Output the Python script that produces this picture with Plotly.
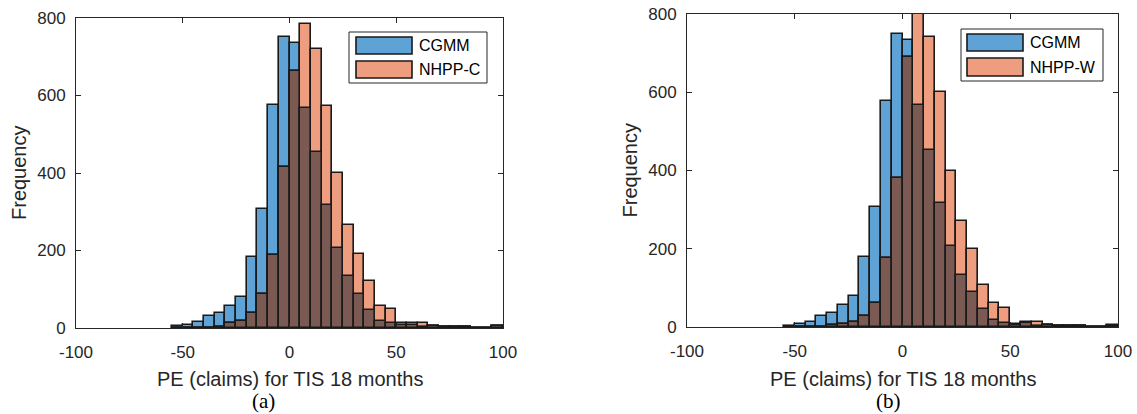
import plotly.graph_objects as go
import numpy as np

# ---------------- data ----------------
bin_left = list(range(-55, 100, 5))          # histogram bin left edges (width 5)
bin_width = 5
x_ticks = [-100, -50, 0, 50, 100]
x_tick_labels = ["-100", "-50", "0", "50", "100"]
y_ticks = [0, 200, 400, 600, 800]
y_tick_labels = ["0", "200", "400", "600", "800"]

cgmm_a = [5, 7, 15, 31, 38, 57, 81, 182, 307, 576, 750, 736, 569, 455, 318, 206,
          134, 89, 46, 19, 12, 7, 8, 3, 6, 3, 2, 3, 0, 0, 5]
nhpp_c = [0, 0, 0, 1, 3, 12, 17, 40, 89, 188, 415, 664, 784, 720, 573, 400,
          267, 190, 122, 57, 50, 12, 14, 14, 6, 3, 3, 3, 0, 0, 4]
cgmm_b = [3, 8, 13, 28, 35, 55, 80, 180, 306, 577, 750, 734, 568, 453, 316, 206,
          133, 90, 46, 18, 11, 4, 9, 3, 6, 2, 2, 2, 0, 0, 4]
nhpp_w = [0, 0, 0, 1, 4, 8, 14, 28, 61, 176, 380, 690, 805, 741, 601, 399,
          270, 199, 107, 61, 49, 8, 13, 13, 6, 2, 2, 2, 0, 0, 3]

x_title = "PE (claims) for TIS 18 months"
y_title = "Frequency"
panels = [
    dict(a=cgmm_a, b=nhpp_c, names=["CGMM", "NHPP-C"], caption="(a)"),
    dict(a=cgmm_b, b=nhpp_w, names=["CGMM", "NHPP-W"], caption="(b)"),
]

# ---------------- style ----------------
W, H = 1137, 414
BLUE = "#5FA2D6"
ORANGE = "#EE9D7F"
OVERLAP = "#7B5A53"
EDGE = "#1A1A1A"
AXC = "#262626"
FONT = "Liberation Sans, Arial, sans-serif"

def px(x):
    return x / W

def py(y):
    return 1 - y / H

# axis boxes in pixels: (left, right, top, bottom)
boxes = [(76, 503, 18, 328), (687, 1118, 14, 327)]
legend_boxes = [
    dict(box=(349, 487, 32, 83), p1=(356, 412, 37, 54), p2=(356, 412, 61, 78), tx=417),
    dict(box=(961, 1103, 29, 81), p1=(967, 1023, 34, 51), p2=(967, 1023, 58, 76), tx=1028),
]
caption_x = [263, 888]
caption_bottom = 414
ytitle_x = [19, 629]
xtitle_y = 379

fig = go.Figure()
centers = [l + bin_width / 2 for l in bin_left]
shapes, annotations = [], []

for i, p in enumerate(panels):
    xa = "x" if i == 0 else "x2"
    ya = "y" if i == 0 else "y2"
    a = np.array(p["a"])
    b = np.array(p["b"])
    ov = np.minimum(a, b)
    for vals, col, nm in [(a, BLUE, p["names"][0]), (b, ORANGE, p["names"][1]),
                          (ov, OVERLAP, "overlap")]:
        fig.add_trace(go.Bar(
            x=centers, y=vals, width=bin_width, name=nm, showlegend=False,
            marker=dict(color=col, line=dict(color=EDGE, width=1.6)),
            xaxis=xa, yaxis=ya,
        ))

    l, r, t, btm = boxes[i]
    axis_common = dict(
        showline=True, linecolor=AXC, linewidth=1, mirror="ticks",
        ticks="inside", ticklen=5, tickcolor=AXC, tickwidth=1,
        showgrid=False, zeroline=False, automargin=False,
        tickfont=dict(family=FONT, size=17, color=AXC),
    )
    xkey = "xaxis" if i == 0 else "xaxis2"
    ykey = "yaxis" if i == 0 else "yaxis2"
    fig.update_layout(**{
        xkey: dict(axis_common, domain=[px(l), px(r)], range=[-100, 100],
                   tickvals=x_ticks, ticktext=x_tick_labels, anchor=ya,
                   ticklabelstandoff=9),
        ykey: dict(axis_common, domain=[py(btm), py(t)], range=[0, 800],
                   tickvals=y_ticks, ticktext=y_tick_labels, anchor=xa,
                   ticklabelstandoff=6),
    })

    # axis titles
    annotations.append(dict(xref="paper", yref="paper", x=px((l + r) / 2), y=py(xtitle_y),
                            text=x_title, showarrow=False, xanchor="center", yanchor="middle",
                            font=dict(family=FONT, size=20, color=AXC)))
    annotations.append(dict(xref="paper", yref="paper", x=px(ytitle_x[i]), y=py((t + btm) / 2),
                            text=y_title, showarrow=False, xanchor="center", yanchor="middle",
                            textangle=-90, font=dict(family=FONT, size=20, color=AXC)))

    # legend (drawn as box + patches + real text)
    lb = legend_boxes[i]
    bx = lb["box"]
    shapes.append(dict(type="rect", xref="paper", yref="paper",
                       x0=px(bx[0]), x1=px(bx[1]), y0=py(bx[3]), y1=py(bx[2]),
                       fillcolor="white", line=dict(color=AXC, width=1), layer="above"))
    for pk, col, nm in [("p1", BLUE, p["names"][0]), ("p2", ORANGE, p["names"][1])]:
        pp = lb[pk]
        shapes.append(dict(type="rect", xref="paper", yref="paper",
                           x0=px(pp[0]), x1=px(pp[1]), y0=py(pp[3]), y1=py(pp[2]),
                           fillcolor=col, line=dict(color=EDGE, width=1.6), layer="above"))
        annotations.append(dict(xref="paper", yref="paper", x=px(lb["tx"]),
                                y=py((pp[2] + pp[3]) / 2), text=nm, showarrow=False,
                                xanchor="left", yanchor="middle",
                                font=dict(family=FONT, size=16, color="#000000")))
    annotations.append(dict(xref="paper", yref="paper", x=px(caption_x[i]), y=py(caption_bottom),
                            text=p["caption"], showarrow=False,
                            xanchor="center", yanchor="bottom", borderpad=0,
                            font=dict(family="Liberation Serif, Times New Roman, serif",
                                      size=21, color="#000000")))

fig.update_layout(
    width=W, height=H, margin=dict(l=0, r=0, t=0, b=0),
    paper_bgcolor="white", plot_bgcolor="white",
    barmode="overlay", bargap=0,
    shapes=shapes, annotations=annotations,
    showlegend=False,
)

fig.write_html("out.html")
